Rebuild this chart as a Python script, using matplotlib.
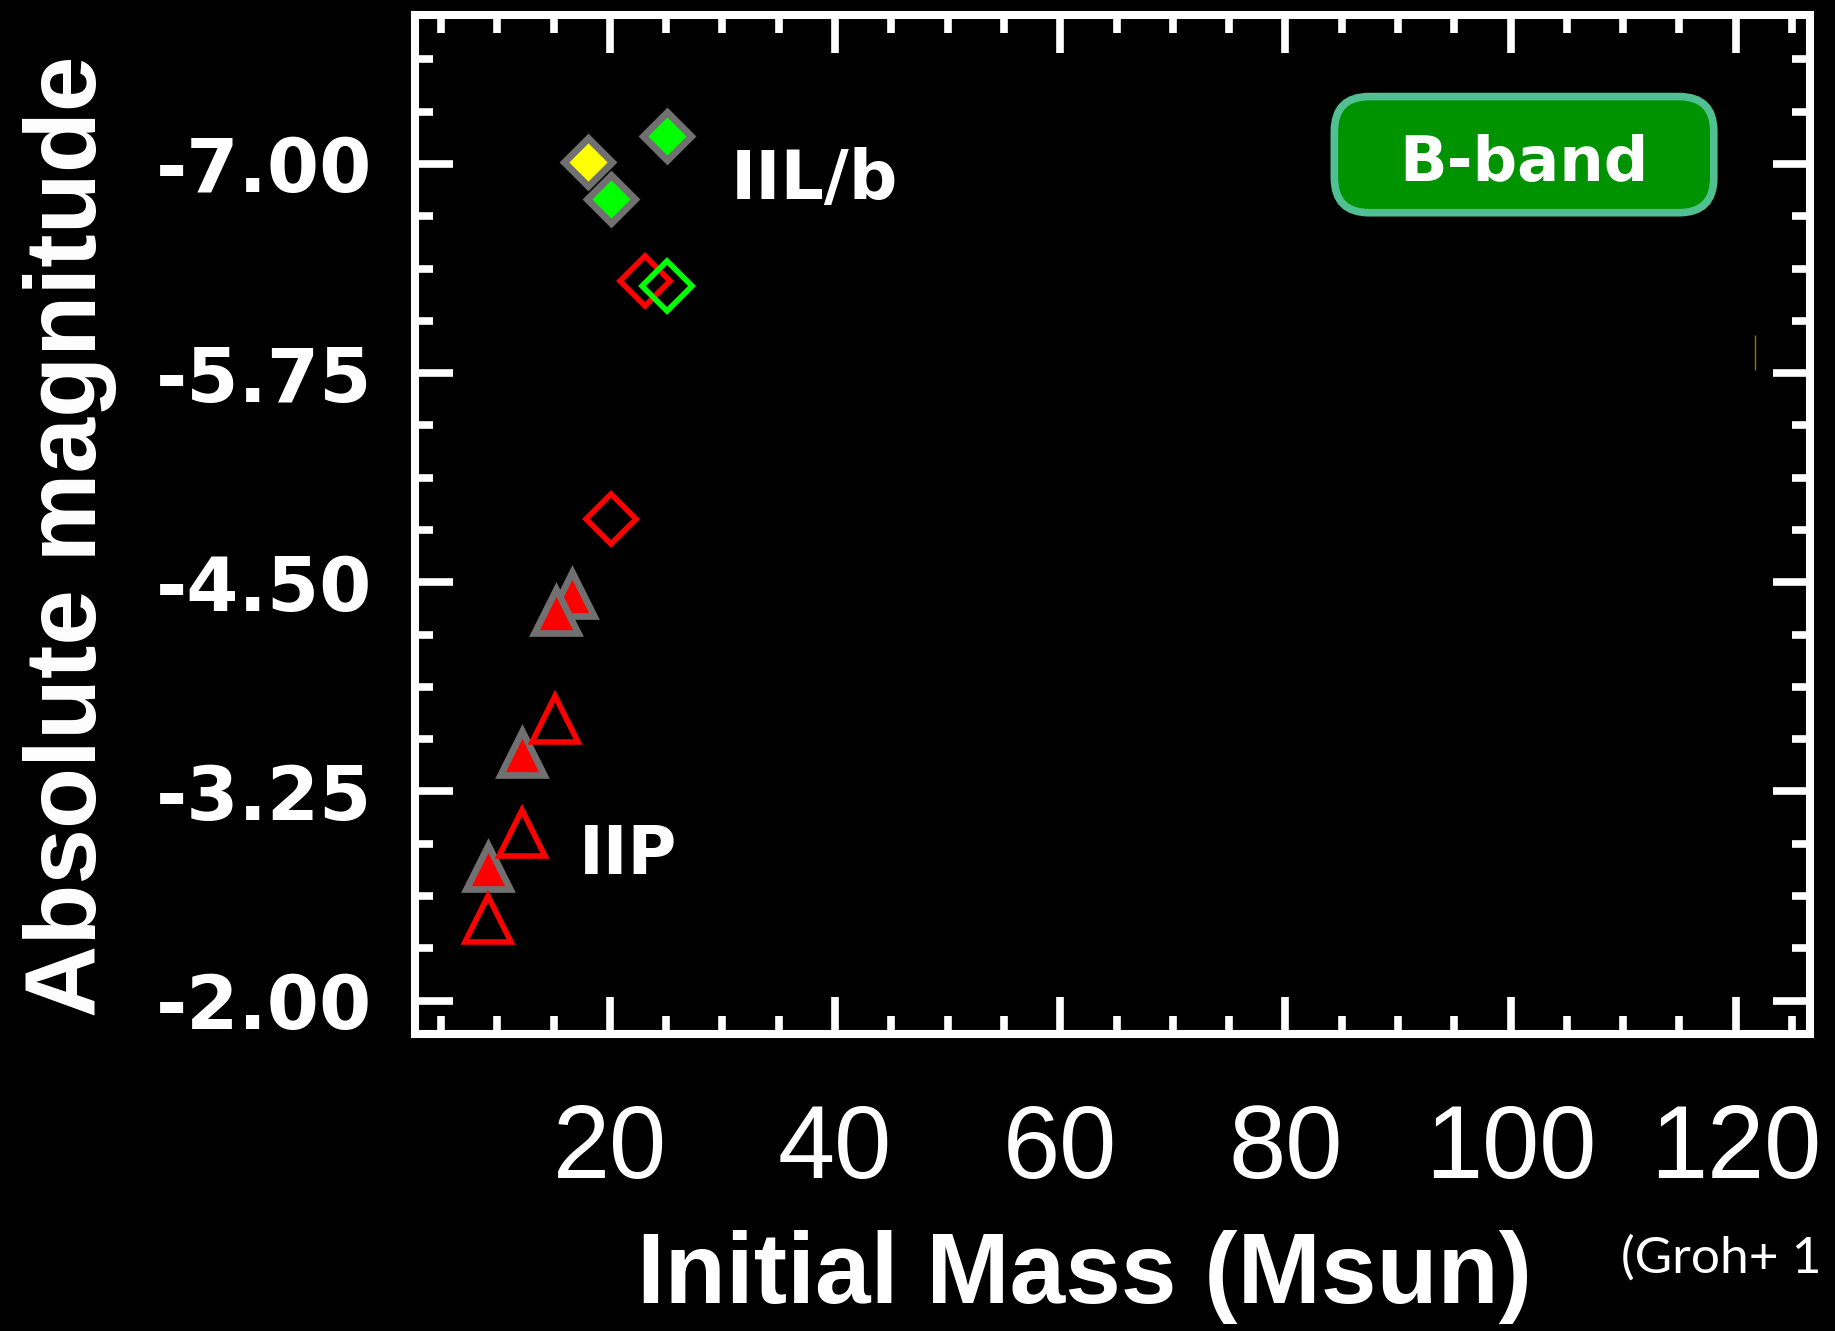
import matplotlib
matplotlib.use("Agg")
import matplotlib.pyplot as plt
from matplotlib.ticker import FixedLocator, MultipleLocator, AutoMinorLocator
from matplotlib.patches import FancyBboxPatch

# IIP progenitors (triangles)
iip_filled_mass = [9.2, 12.2, 16.6, 15.2]
iip_filled_mag = [-2.80, -3.48, -4.43, -4.33]
iip_open_mass = [9.2, 12.2, 15.1]
iip_open_mag = [-2.49, -3.00, -3.68]

# IIL/b progenitors (diamonds)
iilb_yellow_mass = [18.1]
iilb_yellow_mag = [-7.01]
iilb_green_mass = [25.1, 20.1]
iilb_green_mag = [-7.17, -6.79]
iilb_open_red_mass = [23.1, 20.1]
iilb_open_red_mag = [-6.30, -4.88]
iilb_open_green_mass = [25.1]
iilb_open_green_mag = [-6.27]

# faint stray segment near the right edge
stray_mass = 121.7
stray_mag = [-5.98, -5.77]

x_ticks = [20, 40, 60, 80, 100, 120]
y_ticks = [-7.00, -5.75, -4.50, -3.25, -2.00]
y_tick_labels = ["-7.00", "-5.75", "-4.50", "-3.25", "-2.00"]
x_range = (2.7, 126.6)
y_range = (-1.80, -7.89)

fig = plt.figure(figsize=(18.35, 13.31), dpi=100, facecolor="black")
ax = fig.add_axes([0.2262, 0.2231, 0.7602, 0.7656])
ax.set_facecolor("black")

# triangles: filled ones have a grey edge, open ones are red outlines
ax.plot(iip_filled_mass, iip_filled_mag, ls="none", marker="^", ms=31.5,
        mfc="#ff0000", mec="#707070", mew=4.8)
ax.plot(iip_open_mass, iip_open_mag, ls="none", marker="^", ms=32.5,
        mfc="none", mec="#ff0000", mew=4.0)

# diamonds
ax.plot(iilb_open_red_mass, iilb_open_red_mag, ls="none", marker="D", ms=25.5,
        mfc="none", mec="#ff0000", mew=4.0)
ax.plot(iilb_open_green_mass, iilb_open_green_mag, ls="none", marker="D", ms=25.5,
        mfc="none", mec="#00ff00", mew=4.0)
ax.plot(iilb_yellow_mass, iilb_yellow_mag, ls="none", marker="D", ms=24.5,
        mfc="#ffff00", mec="#707070", mew=5.0)
ax.plot(iilb_green_mass, iilb_green_mag, ls="none", marker="D", ms=24.5,
        mfc="#00ff00", mec="#707070", mew=5.0)

ax.vlines(stray_mass, stray_mag[0], stray_mag[1], color="#8a7d00", lw=1)

ax.text(30.7, -6.79, "IIL/b", color="white", fontsize=49, fontweight="bold",
        family="DejaVu Sans", va="baseline", ha="left")
ax.text(17.25, -2.754, "IIP", color="white", fontsize=48, fontweight="bold",
        family="DejaVu Sans", va="baseline", ha="left")

# B-band badge
badge = FancyBboxPatch((0.659, 0.806), 0.272, 0.114,
                       boxstyle="round,pad=0,rounding_size=0.025",
                       mutation_aspect=1.369, transform=ax.transAxes,
                       fc="#009300", ec="#50c090", lw=5.5, zorder=3)
ax.add_patch(badge)
ax.text(0.795, 0.837, "B-band", transform=ax.transAxes, color="white",
        fontsize=45, fontweight="bold", family="DejaVu Sans",
        ha="center", va="baseline", zorder=4)

ax.set_xlim(*x_range)
ax.set_ylim(*y_range)

ax.xaxis.set_major_locator(FixedLocator(x_ticks))
ax.xaxis.set_minor_locator(MultipleLocator(5))
ax.yaxis.set_major_locator(FixedLocator(y_ticks))
ax.yaxis.set_minor_locator(AutoMinorLocator(4))
ax.set_yticklabels(y_tick_labels)

for s in ax.spines.values():
    s.set_color("white")
    s.set_linewidth(5.8)

ax.tick_params(which="both", direction="in", top=True, right=True,
               color="white", width=5.5)
ax.tick_params(which="major", length=27)
ax.tick_params(which="minor", length=13)
ax.tick_params(axis="x", which="major", pad=50, labelsize=74, labelcolor="white")
ax.tick_params(axis="y", which="major", pad=31, labelsize=54, labelcolor="white")
for lab in ax.get_xticklabels():
    lab.set_family("Liberation Sans")
for lab in ax.get_yticklabels():
    lab.set_family("DejaVu Sans")
    lab.set_fontweight("bold")

ax.set_ylabel("Absolute magnitude", fontsize=72, fontweight="bold",
              family="Liberation Sans", color="white")
ax.yaxis.set_label_coords(-0.2136, 0.488)
ax.set_xlabel("Initial Mass (Msun)", fontsize=72, fontweight="bold",
              family="Liberation Sans", color="white")
ax.xaxis.set_label_coords(0.4796, -0.192)

# source note, cut at the right edge in the original slide
fig.text(0.8834, 0.0548, "(Groh+ 1", fontsize=37, color="white",
         family="Lato", va="center", ha="left")

fig.savefig("out.png", dpi=100, facecolor="black")
